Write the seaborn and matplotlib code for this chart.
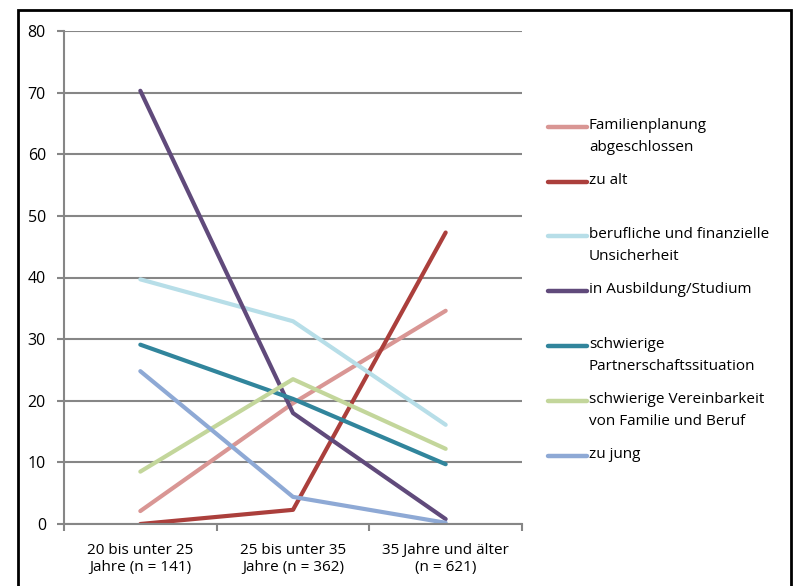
import matplotlib

matplotlib.use("Agg")
import matplotlib.pyplot as plt  # noqa: E402
import pandas as pd  # noqa: E402
import seaborn as sns  # noqa: E402
from matplotlib.lines import Line2D  # noqa: E402
from matplotlib.patches import Rectangle  # noqa: E402

# age groups on the x axis
age_groups = [
    "20 bis unter 25\nJahre (n = 141)",
    "25 bis unter 35\nJahre (n = 362)",
    "35 Jahre und älter\n(n = 621)",
]

reasons = [
    "Familienplanung\nabgeschlossen",
    "zu alt",
    "berufliche und finanzielle\nUnsicherheit",
    "in Ausbildung/Studium",
    "schwierige\nPartnerschaftssituation",
    "schwierige Vereinbarkeit\nvon Familie und Beruf",
    "zu jung",
]

familienplanung = [2.1, 19.6, 34.6]
zu_alt = [0.0, 2.3, 47.3]
unsicherheit = [39.7, 32.9, 16.1]
ausbildung = [70.3, 18.0, 0.8]
partnerschaft = [29.1, 20.3, 9.7]
vereinbarkeit = [8.5, 23.5, 12.2]
zu_jung = [24.8, 4.4, 0.2]

colors = ["#D99694", "#AB3F3C", "#B7DEE8", "#604A7B", "#31859C", "#C3D69B", "#8EA9D5"]

series = [familienplanung, zu_alt, unsicherheit, ausbildung,
          partnerschaft, vereinbarkeit, zu_jung]

rows = []
for reason, vals in zip(reasons, series):
    for grp, v in zip(age_groups, vals):
        rows.append({"Altersgruppe": grp, "Grund": reason, "Prozent": v})
df = pd.DataFrame(rows)

sns.set_style("white")
plt.rcParams["font.family"] = ["Open Sans", "DejaVu Sans"]
plt.rcParams["text.color"] = "black"

W, H = 796, 586
fig = plt.figure(figsize=(W / 100, H / 100), dpi=100)
ax = fig.add_axes([64 / W, 1 - 524 / H, (522 - 64) / W, (524 - 31) / H])

sns.lineplot(
    data=df,
    x="Altersgruppe",
    y="Prozent",
    hue="Grund",
    hue_order=reasons,
    palette=colors,
    sort=False,
    linewidth=3.0,
    legend=False,
    ax=ax,
)

grid_col = "#868686"
ax.set_ylim(0, 80)
ax.set_yticks(range(0, 81, 10))
ax.set_xlim(-0.5, 2.5)
ax.set_xticks([0, 1, 2])
ax.set_xticklabels(age_groups)
ax.set_xticks([-0.5, 0.5, 1.5, 2.5], minor=True)
ax.yaxis.grid(True, color=grid_col, linewidth=1.5)
ax.xaxis.grid(False)
ax.set_axisbelow(True)
ax.set_xlabel("")
ax.set_ylabel("")
for side in ["top", "right"]:
    ax.spines[side].set_visible(False)
for side in ["left", "bottom"]:
    ax.spines[side].set_color(grid_col)
    ax.spines[side].set_linewidth(1.5)
ax.tick_params(axis="y", which="major", left=True, length=5, width=1.5,
               color=grid_col, labelsize=11.5, labelcolor="black", pad=8)
ax.tick_params(axis="x", which="major", bottom=False, labelsize=11,
               labelcolor="black", pad=10)
ax.tick_params(axis="x", which="minor", bottom=True, length=5, width=1.5,
               color=grid_col)

# legend laid out like the original: one slot per entry, text top-aligned
slot_y = [127, 182, 236, 291, 346, 401, 456]
for reason, col, yy in zip(reasons, colors, slot_y):
    yf = 1 - yy / H
    fig.add_artist(Line2D([548 / W, 587 / W], [yf, yf], color=col,
                          linewidth=3.2, solid_capstyle="round"))
    fig.text(589 / W, 1 - (yy - 9) / H, reason, fontsize=11, va="top",
             ha="left", linespacing=1.6)

fig.add_artist(Rectangle((18 / W, -0.05), (791 - 18) / W, 1.05 - 10 / H,
                         transform=fig.transFigure, fill=False,
                         edgecolor="black", linewidth=2))

fig.savefig("out.png", dpi=100)
